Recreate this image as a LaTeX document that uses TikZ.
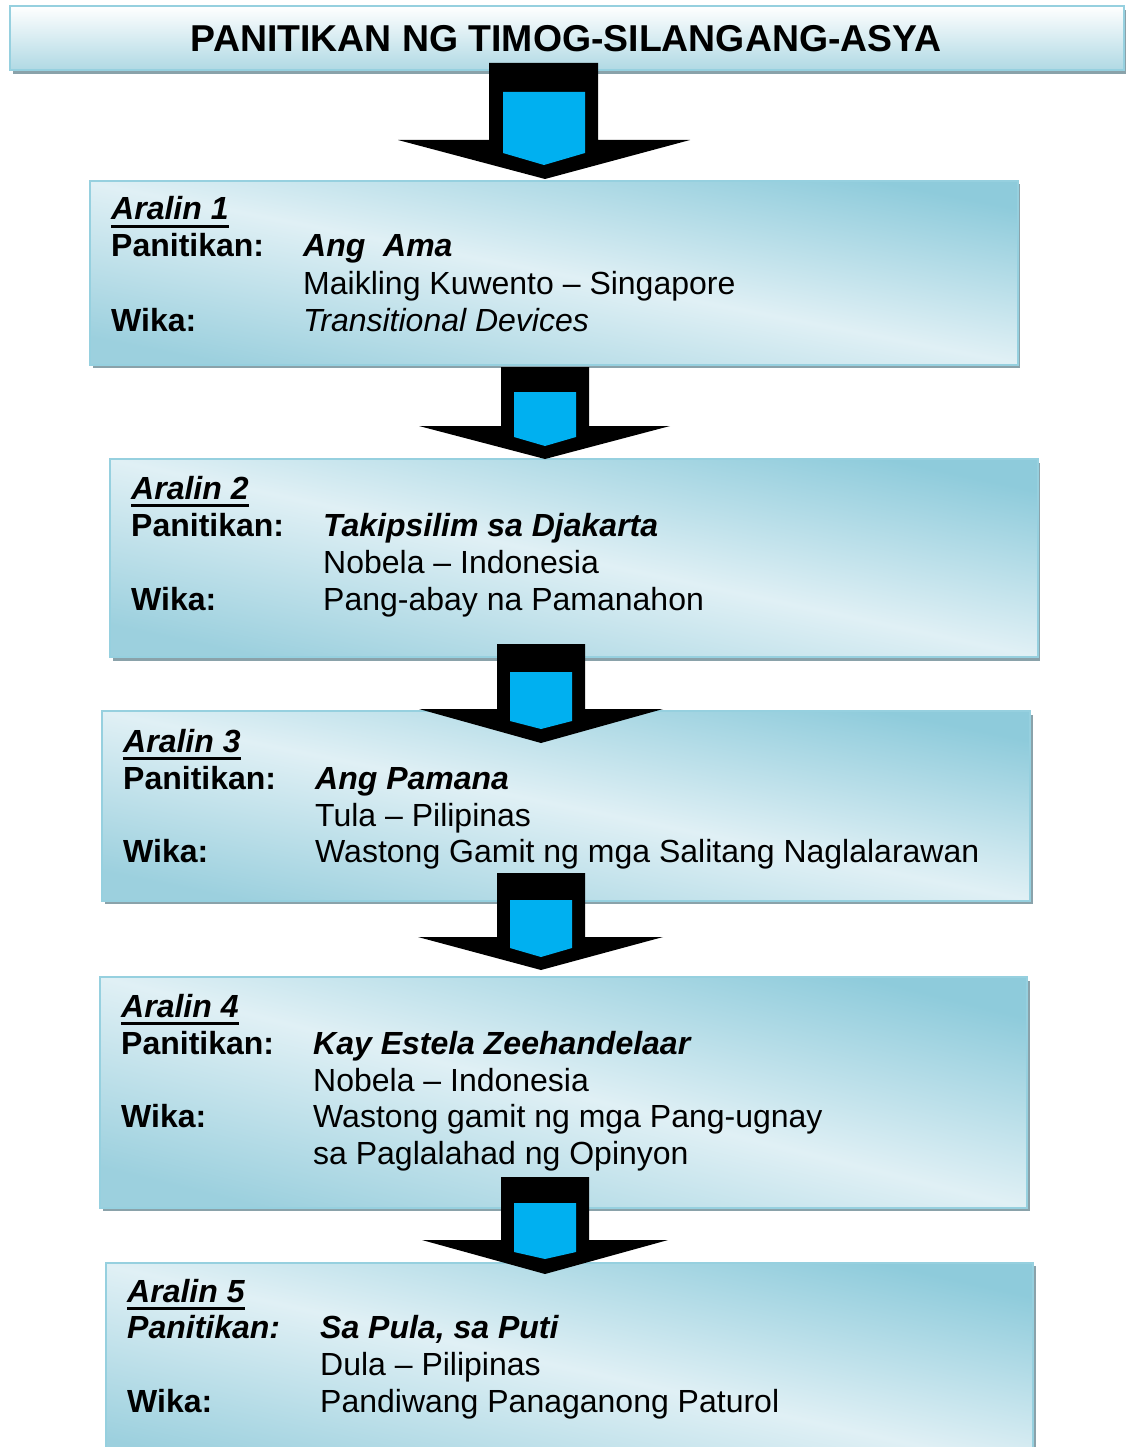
\documentclass[tikz,border=0pt]{standalone}
\usepackage{fontspec}
\setmainfont{Liberation Sans}
\definecolor{bdark}{RGB}{142,203,219}
\definecolor{bdarkb}{RGB}{156,208,222}
\definecolor{blight}{RGB}{224,240,245}
\definecolor{tbot}{RGB}{176,217,228}
\definecolor{bord}{RGB}{150,208,223}
\definecolor{shad}{RGB}{138,162,170}
\definecolor{arrblue}{RGB}{0,176,240}
\tikzset{
  panel/.style={draw=bord, line width=1.8pt, shading=axis, top color=bdark, bottom color=bdarkb, middle color=blight, inner sep=0pt, anchor=north west},
  titlepanel/.style={draw=bord, line width=1.8pt, top color=white, bottom color=tbot, inner sep=0pt, anchor=north west},
  shadowbox/.style={fill=shad},
  lbl/.style={anchor=base west, inner sep=0pt, font=\fontsize{32}{37}\selectfont\bfseries},
  lbli/.style={anchor=base west, inner sep=0pt, font=\fontsize{32}{37}\selectfont\bfseries\itshape},
  val/.style={anchor=base west, inner sep=0pt, font=\fontsize{32}{37}\selectfont},
  vali/.style={anchor=base west, inner sep=0pt, font=\fontsize{32}{37}\selectfont\itshape},
  ulin/.style={line width=3pt},
  arrblack/.style={fill=black},
  arrinner/.style={fill=arrblue},
}
\begin{document}
\begin{tikzpicture}[x=1pt,y=-1pt]
\useasboundingbox (0,0) rectangle (1126,1447);
\clip (0,0) rectangle (1126,1447);
% title
\fill[shadowbox] (13,10) rectangle (1127,74);
\node[titlepanel, minimum width=1114pt, minimum height=64pt] (title) at (9,5) {};
\node[anchor=base, inner sep=0pt, font=\fontsize{37.4}{42}\selectfont\bfseries] (ttext) at (566,52) {PANITIKAN NG TIMOG-SILANGANG-ASYA};
% box 1
\fill[shadowbox] (93,184) rectangle (1020,368);
\node[panel, shading angle=-11, minimum width=928pt, minimum height=184pt] (b1) at (89,180) {};
% box 2
\fill[shadowbox] (113,463) rectangle (1040,661);
\node[panel, shading angle=-12, minimum width=928pt, minimum height=198pt] (b2) at (109,458) {};
% box 3
\fill[shadowbox] (105,715) rectangle (1033,904);
\node[panel, shading angle=-11.5, minimum width=928pt, minimum height=190pt] (b3) at (101,710) {};
% box 4
\fill[shadowbox] (103,981) rectangle (1030,1211);
\node[panel, shading angle=-14, minimum width=927pt, minimum height=231pt] (b4) at (99,976) {};
% box 5
\fill[shadowbox] (109,1266) rectangle (1036,1480);
\node[panel, shading angle=-12.5, minimum width=927pt, minimum height=210pt] (b5) at (105,1262) {};

% texts box 1
\node[lbli] (a1) at (111,220) {Aralin 1};
\draw[ulin] ([yshift=-6.5pt]a1.base west) -- ([yshift=-6.5pt]a1.base east);
\node[lbl] (p1) at (111,257) {Panitikan:};
\node[lbli] (t1) at (303,257) {Ang\ \ Ama};
\node[val] (g1) at (303,294) {Maikling Kuwento – Singapore};
\node[lbl] (w1) at (111,331) {Wika:};
\node[vali] (v1) at (303,331) {Transitional Devices};
% texts box 2
\node[lbli] (a2) at (131,499) {Aralin 2};
\draw[ulin] ([yshift=-6.5pt]a2.base west) -- ([yshift=-6.5pt]a2.base east);
\node[lbl] (p2) at (131,536) {Panitikan:};
\node[lbli] (t2) at (323,536) {Takipsilim sa Djakarta};
\node[val] (g2) at (323,573) {Nobela – Indonesia};
\node[lbl] (w2) at (131,610) {Wika:};
\node[val] (v2) at (323,610) {Pang-abay na Pamanahon};
% texts box 3
\node[lbli] (a3) at (123,752) {Aralin 3};
\draw[ulin] ([yshift=-6.5pt]a3.base west) -- ([yshift=-6.5pt]a3.base east);
\node[lbl] (p3) at (123,789) {Panitikan:};
\node[lbli] (t3) at (315,789) {Ang Pamana};
\node[val] (g3) at (315,826) {Tula – Pilipinas};
\node[lbl] (w3) at (123,862) {Wika:};
\node[val] (v3) at (315,862) {Wastong Gamit ng mga Salitang Naglalarawan};
% texts box 4
\node[lbli] (a4) at (121,1017) {Aralin 4};
\draw[ulin] ([yshift=-6.5pt]a4.base west) -- ([yshift=-6.5pt]a4.base east);
\node[lbl] (p4) at (121,1054) {Panitikan:};
\node[lbli] (t4) at (313,1054) {Kay Estela Zeehandelaar};
\node[val] (g4) at (313,1091) {Nobela – Indonesia};
\node[lbl] (w4) at (121,1127) {Wika:};
\node[val] (v4) at (313,1127) {Wastong gamit ng mga Pang-ugnay};
\node[val] (v4b) at (313,1164) {sa Paglalahad ng Opinyon};
% texts box 5
\node[lbli] (a5) at (127,1302) {Aralin 5};
\draw[ulin] ([yshift=-6.5pt]a5.base west) -- ([yshift=-6.5pt]a5.base east);
\node[lbli] (p5) at (127,1338) {Panitikan:};
\node[lbli] (t5) at (320,1338) {Sa Pula, sa Puti};
\node[val] (g5) at (320,1375) {Dula – Pilipinas};
\node[lbl] (w5) at (127,1412) {Wika:};
\node[val] (v5) at (320,1412) {Pandiwang Panaganong Paturol};

% arrows
\fill[arrblack] (489,63) -- (598,63) -- (598,140) -- (690,140) -- (545,179) -- (398,140) -- (489,140) -- cycle;
\fill[arrinner] (503,92) -- (585,92) -- (585,153) -- (544,165) -- (503,153) -- cycle;
\fill[arrblack] (501,367) -- (589,367) -- (589,426) -- (670,426) -- (545,459) -- (419,426) -- (501,426) -- cycle;
\fill[arrinner] (514,392) -- (576,392) -- (576,437) -- (545,446) -- (514,437) -- cycle;
\fill[arrblack] (497,644) -- (585,644) -- (585,709) -- (663,709) -- (541,743) -- (419,709) -- (497,709) -- cycle;
\fill[arrinner] (510,672) -- (572,672) -- (572,721) -- (541,729) -- (510,721) -- cycle;
\fill[arrblack] (497,873) -- (585,873) -- (585,937) -- (663,937) -- (541,970) -- (418,937) -- (497,937) -- cycle;
\fill[arrinner] (510,900) -- (572,900) -- (572,948) -- (541,957) -- (510,948) -- cycle;
\fill[arrblack] (501,1177) -- (589,1177) -- (589,1240) -- (668,1240) -- (545,1274) -- (422,1240) -- (501,1240) -- cycle;
\fill[arrinner] (514,1203) -- (576,1203) -- (576,1252) -- (545,1259) -- (514,1252) -- cycle;
\end{tikzpicture}
\end{document}
